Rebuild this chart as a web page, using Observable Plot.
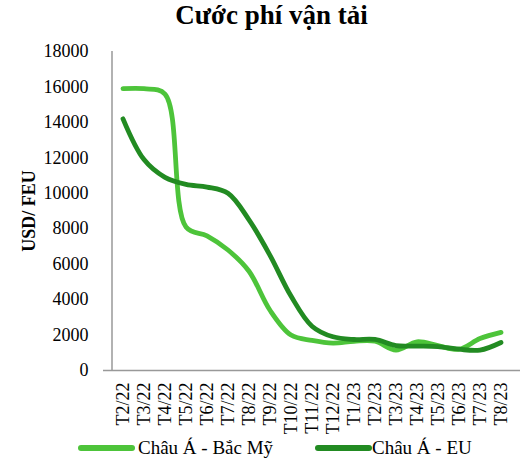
<!DOCTYPE html>
<html>
<head>
<meta charset="utf-8">
<script src="https://cdn.jsdelivr.net/npm/d3@7"></script>
<script src="https://cdn.jsdelivr.net/npm/@observablehq/plot@0.6"></script>
<style>
  body { margin: 0; background: #fff; font-family: 'Liberation Serif', serif; }
  #wrap { width: 525px; height: 459px; position: relative; overflow: hidden; }
  #title { position: absolute; top: -3px; left: 0; width: 525px; text-align: center; padding-left: 18px; box-sizing: border-box; font-size: 27px; line-height: 36px; font-weight: bold; color: #000; font-family: 'Liberation Serif', serif; }
  #chart { position: absolute; top: 34px; left: 0; }
  #chart svg text { font-family: 'Liberation Serif', serif !important; font-size: 18px !important; fill: #000; }
  #legend { position: absolute; top: 436px; left: 0; width: 525px; height: 23px; font-size: 19px; line-height: 23px; color: #000; font-family: 'Liberation Serif', serif; }
  .sw { position: absolute; top: 9px; height: 6px; border-radius: 3px; }
  .lb { position: absolute; top: 0; }
</style>
</head>
<body>
<div id="wrap">
  <div id="title">Cước phí vận tải</div>
  <div id="chart"></div>
  <div id="legend"></div>
</div>
<script>
const months = ["T2/22","T3/22","T4/22","T5/22","T6/22","T7/22","T8/22","T9/22","T10/22","T11/22","T12/22","T1/23","T2/23","T3/23","T4/23","T5/23","T6/23","T7/23","T8/23"];
const asiaNA = [15900,15900,15600,8100,7600,6800,5600,3400,2000,1700,1550,1650,1650,1150,1620,1400,1200,1800,2150];
const asiaEU = [14200,11900,10900,10500,10350,10000,8500,6500,4200,2500,1900,1750,1750,1400,1380,1350,1200,1150,1580];
const seriesNames = ["Châu Á - Bắc Mỹ","Châu Á - EU"];
const seriesColors = ["#4dc43a","#228b22"];
const yTicks = [0,2000,4000,6000,8000,10000,12000,14000,16000,18000];
const yLabel = "USD/ FEU";

const data = [];
months.forEach((m,i) => {
  data.push({month: m, value: asiaNA[i], series: seriesNames[0]});
  data.push({month: m, value: asiaEU[i], series: seriesNames[1]});
});

const chart = Plot.plot({
  width: 525,
  height: 400,
  marginTop: 17,
  marginBottom: 64,
  marginLeft: 103,
  marginRight: 5,
  style: "font-family: 'Liberation Serif', serif; font-size: 18px; background: #fff;",
  x: {type: "band", domain: months, padding: 0, label: null},
  y: {domain: [0,18000], label: null},
  color: {domain: seriesNames, range: seriesColors},
  marks: [
    Plot.axisY({ticks: yTicks, tickSize: 0, tickPadding: 15, tickFormat: d => String(d), label: null, fontFamily: "Liberation Serif"}),
    Plot.axisX({tickSize: 0, tickPadding: 12, tickRotate: -90, label: null, fontFamily: "Liberation Serif"}),
    Plot.ruleX([0], {x: () => months[0], dx: -11, stroke: "#999", strokeWidth: 1.5, y1: 0, y2: 18000}),
    Plot.ruleY([0], {stroke: "#999", strokeWidth: 1.5}),
    Plot.line(data, {x: "month", y: "value", stroke: "series", z: "series", strokeWidth: 4.8, curve: "catmull-rom"}),
    Plot.text([yLabel], {frameAnchor: "left", textAnchor: "middle", dx: -74, rotate: -90, text: d => d, fontWeight: "bold", fill: "#000", fontFamily: "Liberation Serif"})
  ]
});
document.getElementById("chart").appendChild(chart);

const legend = document.getElementById("legend");
const legendPos = [{sw: 78, w: 57, lb: 138}, {sw: 315, w: 57, lb: 372}];
seriesNames.forEach((n,i) => {
  const s = document.createElement("div");
  s.className = "sw";
  s.style.left = legendPos[i].sw + "px";
  s.style.width = legendPos[i].w + "px";
  s.style.background = seriesColors[i];
  legend.appendChild(s);
  const l = document.createElement("div");
  l.className = "lb";
  l.style.left = legendPos[i].lb + "px";
  l.textContent = n;
  legend.appendChild(l);
});
</script>
</body>
</html>
